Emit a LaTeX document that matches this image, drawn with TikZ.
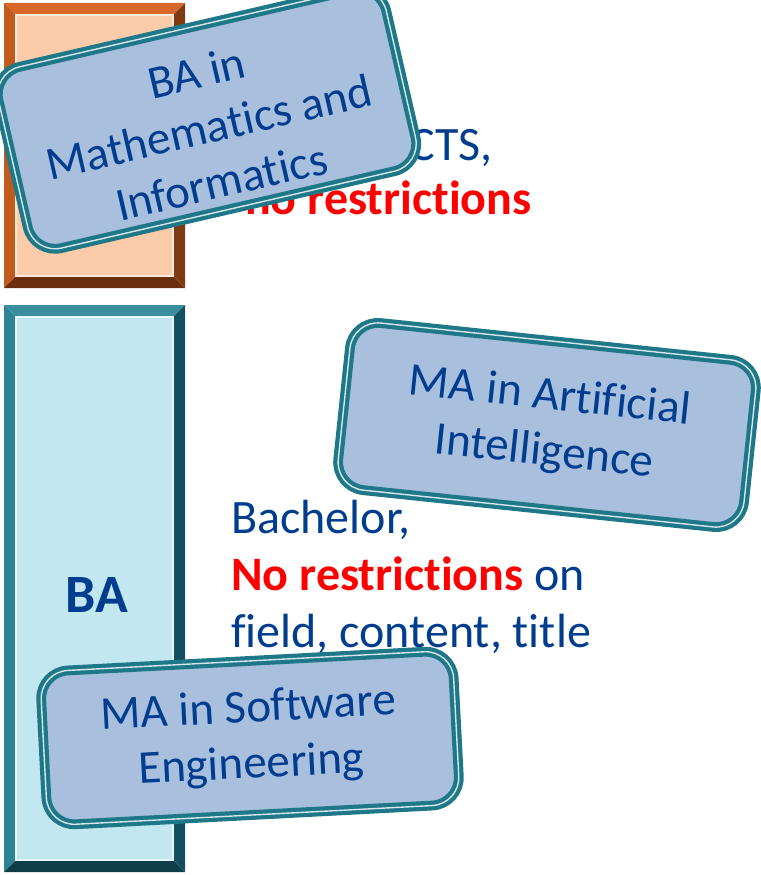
\documentclass[tikz,border=0pt]{standalone}
\usepackage{fontspec}
\setmainfont[Ligatures=NoCommon]{Carlito}
\usepackage{xcolor}
\usepackage{tikz}

\definecolor{textblue}{HTML}{003D8F}
\definecolor{cardfill}{HTML}{A9BFDE}
\definecolor{cardedge}{HTML}{1F7888}
\definecolor{cardrim}{HTML}{D6E6EE}
\definecolor{peach}{HTML}{FCCBA9}
\definecolor{orangetop}{HTML}{D8682A}
\definecolor{orangeleft}{HTML}{C25A1E}
\definecolor{orangeright}{HTML}{803A12}
\definecolor{orangebottom}{HTML}{6A2E0C}
\definecolor{paleblue}{HTML}{C2E7F1}
\definecolor{tealtop}{HTML}{3A8E9E}
\definecolor{tealleft}{HTML}{2C8393}
\definecolor{tealright}{HTML}{14505E}
\definecolor{tealbottom}{HTML}{0F3E4A}

\tikzset{
  cardtext/.style={align=center, text=textblue, inner sep=0,
    font=\fontsize{47}{56}\selectfont},
  card/.style={cardtext, draw=cardedge, fill=cardfill, rounded corners=28, line width=4.2,
    double=cardrim, double distance=1.4},
  bodytext/.style={anchor=base west, inner sep=0, text=textblue,
    font=\fontsize{48}{58}\selectfont},
  warn/.style={text=red, font=\bfseries\fontsize{48}{58}\selectfont}
}

\begin{document}
\begin{tikzpicture}[x=1pt, y=-1pt]
            \useasboundingbox (0,0) rectangle (760,875);
            % orange bar
            \fill [orangetop] (4,3) -- (185,3) -- (173,15) -- (16,15) -- cycle;
            \fill [orangeleft] (4,3) -- (16,15) -- (16,276) -- (4,288) -- cycle;
            \fill [orangeright] (185,3) -- (185,288) -- (173,276) -- (173,15) -- cycle;
            \fill [orangebottom] (4,288) -- (16,276) -- (173,276) -- (185,288) -- cycle;
            \fill [peach, draw=peach!40!white, line width=1.5] (16,15) rectangle (173,276);
            % blue bar
            \fill [tealtop] (4,305) -- (185,305) -- (173,317) -- (16,317) -- cycle;
            \fill [tealleft] (4,305) -- (16,317) -- (16,860) -- (4,872) -- cycle;
            \fill [tealright] (185,305) -- (185,872) -- (173,860) -- (173,317) -- cycle;
            \fill [tealbottom] (4,872) -- (16,860) -- (173,860) -- (185,872) -- cycle;
            \fill [paleblue, draw=paleblue!40!white, line width=1.5] (16,317) rectangle (173,860);
            \node [text=textblue, font=\bfseries\fontsize{54}{60}\selectfont] (ba) at (97,595) {BA};
            % texts
            \node [bodytext, anchor=base east] (ects) at (493,160) {ECTS,};
            \node [bodytext, warn] (norestr) at (245,214) {no restrictions};
            \node [bodytext] (bach) at (231,533) {Bachelor,};
            \node [bodytext] (restr) at (231,590) {\textcolor{red}{\bfseries No restrictions} on};
            \node [bodytext] (field) at (231,647) {field, content, title};
            % cards
            \node [card, rotate=13, minimum width=398, minimum height=186] (bami) at (207,119) {};
            \node [cardtext, rotate=13] (bamilabel) at (209,127) {BA in\\Mathematics and\\Informatics};
            \node [card, rotate=-6, minimum width=408, minimum height=168] (maai) at (547,425) {MA in Artificial\\Intelligence};
            \node [card, rotate=3, minimum width=413, minimum height=154] (mase) at (250,738) {MA in Software\\Engineering};
        \end{tikzpicture}
\end{document}
